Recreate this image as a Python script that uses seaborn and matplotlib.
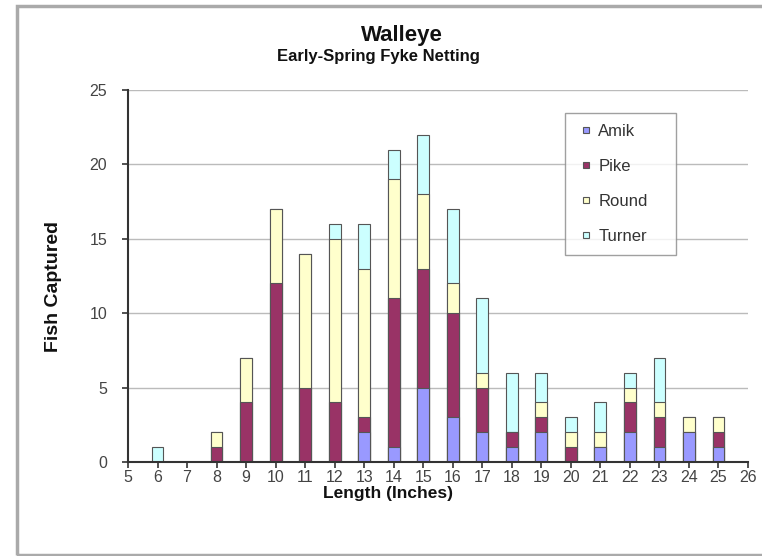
import matplotlib
matplotlib.use("Agg")
import matplotlib.pyplot as plt
import seaborn as sns
import pandas as pd
import numpy as np
from matplotlib.patches import Rectangle
from matplotlib.lines import Line2D

lengths = [6, 7, 8, 9, 10, 11, 12, 13, 14, 15, 16, 17, 18, 19, 20, 21, 22, 23, 24, 25]
amik    = [0, 0, 0, 0, 0, 0, 0, 2, 1, 5, 3, 2, 1, 2, 0, 1, 2, 1, 2, 1]
pike    = [0, 0, 1, 4, 12, 5, 4, 1, 10, 8, 7, 3, 1, 1, 1, 0, 2, 2, 0, 1]
round_  = [0, 0, 1, 3, 5, 9, 11, 10, 8, 5, 2, 1, 0, 1, 1, 1, 1, 1, 1, 1]
turner  = [1, 0, 0, 0, 0, 0, 1, 3, 2, 4, 5, 5, 4, 2, 1, 2, 1, 3, 0, 0]
series_names = ["Amik", "Pike", "Round", "Turner"]
colors = ["#9999FF", "#993366", "#FFFFCC", "#CCFFFF"]

sns.set_theme(style="white")
plt.rcParams["font.family"] = ["Liberation Sans", "DejaVu Sans"]

df = pd.DataFrame({"Length": lengths, "Amik": amik, "Pike": pike,
                   "Round": round_, "Turner": turner})
cum = df[series_names].cumsum(axis=1)

fig = plt.figure(figsize=(7.62, 5.56), dpi=100)
ax = fig.add_axes([128/762, 1-462/556, (748-128)/762, (462-90)/556])

# draw tallest cumulative first, so lower segments overlay
for name, col in reversed(list(zip(series_names, colors))):
    sns.barplot(x=df["Length"], y=cum[name], native_scale=True, width=0.4,
                color=col, edgecolor="#555555", linewidth=0.8,
                saturation=1, ax=ax, zorder=3)

ax.set_xlim(5, 26)
ax.set_ylim(0, 25)
ax.set_xticks(range(5, 27))
ax.set_yticks(range(0, 26, 5))
ax.yaxis.grid(True, color="#BBBBBB", linewidth=1)
ax.set_axisbelow(True)
for s in ["top", "right"]:
    ax.spines[s].set_visible(False)
for s in ["left", "bottom"]:
    ax.spines[s].set_color("#333333")
    ax.spines[s].set_linewidth(1.5)
    ax.spines[s].set_zorder(5)
ax.tick_params(axis="both", direction="out", length=4, width=1.2, color="#333333",
               labelsize=11.5, labelcolor="#444444", left=True, bottom=True)
ax.tick_params(axis="y", pad=11)
ax.tick_params(axis="x", pad=2)

ax.set_xlabel("Length (Inches)", fontsize=12.5, fontweight="bold", color="#111111")
ax.set_ylabel("Fish Captured", fontsize=14, fontweight="bold", color="#111111")
ax.xaxis.set_label_coords((388-128)/620, -(486-462)/372)
ax.yaxis.set_label_coords((62-128)/620, 1-(286-90)/372)

fig.text(402/762, 1-36/556, "Walleye", ha="center", va="center",
         fontsize=16, fontweight="bold", color="#111111")
fig.text(378/762, 1-57/556, "Early-Spring Fyke Netting", ha="center", va="center",
         fontsize=12, fontweight="bold", color="#111111")

handles = [Line2D([], [], linestyle="none", marker="s", markersize=5,
                  markerfacecolor=c, markeredgecolor="#555555", markeredgewidth=0.8,
                  label=n)
           for n, c in zip(series_names, colors)]
x0 = (565-128)/620
y1 = 1-(113-90)/372
leg = ax.legend(handles=handles, loc="upper left",
                bbox_to_anchor=(x0, y1 - 0.38, (676-565)/620, 0.38), mode="expand",
                frameon=True, fancybox=False, edgecolor="#888888",
                fontsize=12, handlelength=1.2, handletextpad=0.15,
                labelspacing=1.2, borderpad=0.65, borderaxespad=0)
leg.get_frame().set_linewidth(1)
leg.set_zorder(10)
for t in leg.get_texts():
    t.set_color("#333333")

fig.patches.append(Rectangle((17/762, 1/556), 1.0, 1-7/556, transform=fig.transFigure,
                             fill=False, edgecolor="#AAAAAA", linewidth=2.5))

fig.savefig("out.png", dpi=100)
